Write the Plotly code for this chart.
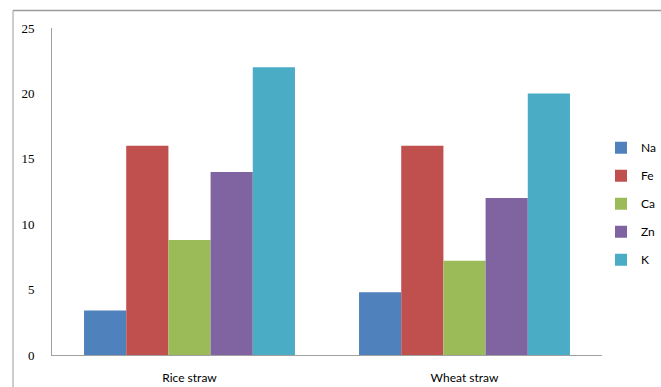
import plotly.graph_objects as go

# Straw types on the category axis
categories = ["Rice straw", "Wheat straw"]

# Element content per straw type
na = [3.4, 4.8]
fe = [16, 16]
ca = [8.8, 7.2]
zn = [14, 12]
k = [22, 20]

series_names = ["Na", "Fe", "Ca", "Zn", "K"]
series_values = [na, fe, ca, zn, k]
series_colors = ["#4F81BD", "#C0504D", "#9BBB59", "#8064A2", "#4BACC6"]

y_ticks = [0, 5, 10, 15, 20, 25]

fig = go.Figure()
for name, vals, color in zip(series_names, series_values, series_colors):
    fig.add_trace(go.Bar(
        x=categories, y=vals, name=name, legendgroup=name,
        marker=dict(color=color, line=dict(width=0)),
    ))

W, H = 661, 387
L, R, T, B = 52, 59, 27.5, 31.5
pw, ph = W - L - R, H - T - B

def px_x(p):
    return (p - L) / pw

def px_y(p):
    return (H - B - p) / ph

fig.update_layout(
    width=W, height=H,
    margin=dict(l=L, r=R, t=T, b=B, autoexpand=False),
    paper_bgcolor="white", plot_bgcolor="white",
    barmode="group", bargap=0.233, bargroupgap=0,
    showlegend=True,
    legend=dict(
        x=px_x(601), y=px_y(133), xanchor="left", yanchor="top",
        font=dict(family="Lato, Liberation Sans, sans-serif", size=12, color="#000"),
        tracegroupgap=9, itemwidth=30, bgcolor="rgba(0,0,0,0)",
    ),
    xaxis=dict(
        showline=True, linecolor="#A0A0A0", linewidth=1,
        showgrid=False, ticks="", ticklabelstandoff=12,
        tickfont=dict(family="Lato, Liberation Sans, sans-serif", size=12, color="#000"),
    ),
    yaxis=dict(
        range=[0, 25], tickvals=y_ticks,
        showline=True, linecolor="#A0A0A0", linewidth=1,
        showgrid=False, zeroline=False, ticks="", ticklabelstandoff=14,
        tickfont=dict(family="Liberation Serif, DejaVu Serif, serif", size=13, color="#000"),
    ),
    shapes=[
        # outer chart frame
        dict(type="line", xref="paper", yref="paper",
             x0=px_x(13), x1=px_x(13), y0=px_y(10), y1=px_y(H + 5),
             line=dict(color="#9A9A9A", width=1)),
        dict(type="line", xref="paper", yref="paper",
             x0=px_x(13), x1=px_x(W + 5), y0=px_y(10), y1=px_y(10),
             line=dict(color="#9A9A9A", width=1.5)),
    ],
)

fig.write_html("out.html")
